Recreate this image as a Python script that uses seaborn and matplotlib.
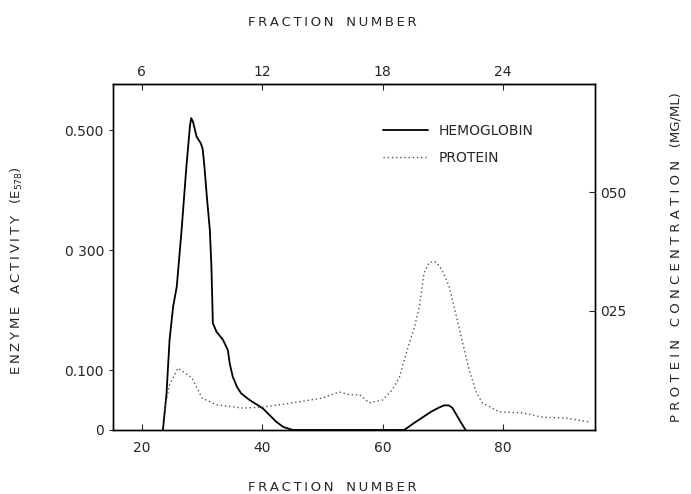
import matplotlib
matplotlib.use("Agg")
import matplotlib.pyplot as plt
import seaborn as sns
import pandas as pd

# Hemoglobin (enzyme activity, E578) vs fraction number
hb_x = [23.5, 24.1, 24.6, 25.2, 25.8, 26.6, 27.4, 28.0, 28.2, 28.5, 29.1, 29.8,
        30.1, 30.4, 30.8, 31.3, 31.56, 31.8, 32.4, 33.5, 34.3, 34.6, 35.1, 35.8,
        36.5, 37.9, 39.0, 40.1, 41.2, 42.3, 43.5, 45.1, 55.0, 63.6, 65.0, 66.5,
        68.0, 69.3, 70.2, 71.0, 71.6, 72.3, 73.0, 73.8]
hb_y = [0.0, 0.061, 0.15, 0.206, 0.239, 0.333, 0.439, 0.508, 0.52, 0.514, 0.489,
        0.478, 0.469, 0.439, 0.389, 0.333, 0.272, 0.178, 0.164, 0.15, 0.133, 0.111,
        0.089, 0.072, 0.061, 0.05, 0.043, 0.036, 0.025, 0.014, 0.005, 0.0, 0.0,
        0.0, 0.01, 0.02, 0.03, 0.037, 0.041, 0.041, 0.037, 0.025, 0.013, 0.0]

# Protein concentration (mg/ml) vs fraction number
pr_x = [23.8, 24.6, 26.0, 27.1, 28.3, 30.0, 32.4, 36.7, 40.1, 45.0, 50.0, 52.8,
        54.5, 56.2, 57.8, 60.0, 61.6, 62.8, 64.1, 65.3, 66.1, 66.9, 67.8, 68.9,
        69.9, 71.1, 71.9, 72.7, 73.6, 74.4, 75.6, 76.6, 79.4, 83.2, 86.5, 90.5,
        94.3]
pr_y = [0.0042, 0.0095, 0.013, 0.012, 0.011, 0.0067, 0.0053, 0.0046, 0.0048,
        0.0057, 0.0067, 0.008, 0.0074, 0.0074, 0.0057, 0.0063, 0.0084, 0.0111,
        0.0168, 0.0216, 0.0258, 0.033, 0.0353, 0.0353, 0.0336, 0.030, 0.0258,
        0.0216, 0.0168, 0.0126, 0.0078, 0.0057, 0.0038, 0.0036, 0.0027, 0.0025,
        0.0017]

left_ticks = [0, 0.1, 0.3, 0.5]
left_labels = ["0", "0.100", "0 300", "0.500"]
right_ticks = [0.025, 0.050]
right_labels = ["025", "050"]
top_ticks = [6, 12, 18, 24]

hb = pd.DataFrame({"fraction": hb_x, "value": hb_y})
pr = pd.DataFrame({"fraction": pr_x, "value": pr_y})


def spaced(words, gap):
    # letter-spaced label like the old typewriter lettering
    return "   ".join(gap.join(w) for w in words)


sns.set_style("ticks")
plt.rcParams["font.family"] = ["DejaVu Sans"]

fig = plt.figure(figsize=(6.91, 4.94), dpi=100)
ax = fig.add_axes([0.1635, 0.1296, 0.6975, 0.7004])
ax2 = ax.twinx()

sns.lineplot(data=hb, x="fraction", y="value", ax=ax, color="black",
             linewidth=1.3, label="HEMOGLOBIN", legend=False)
sns.lineplot(data=pr, x="fraction", y="value", ax=ax2, color="#555555",
             linewidth=1.0, linestyle=(0, (1, 2)), label="PROTEIN", legend=False)

ax.set_xlim(15.2, 95.3)
ax.set_ylim(0, 0.577)
ax2.set_ylim(0, 0.0727)

ax.set_xticks([20, 40, 60, 80])
ax.set_yticks(left_ticks)
ax.set_yticklabels(left_labels)
ax2.set_yticks(right_ticks)
ax2.set_yticklabels(right_labels)
ax.set_xlabel("")
ax.set_ylabel("")
ax2.set_ylabel("")

for a in (ax, ax2):
    for s in a.spines.values():
        s.set_color("black")
        s.set_linewidth(1.0)
ax.tick_params(axis="x", direction="in", length=4, labelsize=10, pad=8)
ax.tick_params(axis="y", direction="out", length=3, labelsize=10)
ax2.tick_params(axis="y", direction="in", length=4, labelsize=10)

top = ax.secondary_xaxis("top", functions=(lambda v: v * 0.3, lambda v: v / 0.3))
top.set_xticks(top_ticks)
top.tick_params(direction="in", length=4, labelsize=10)

frac = spaced(["FRACTION", "NUMBER"], "\u2009")
fig.text(332 / 691, 1 - 22 / 494, frac, ha="center", va="center", fontsize=9.5)
fig.text(332 / 691, 1 - 487 / 494, frac, ha="center", va="center", fontsize=9.5)
fig.text(17 / 691, 1 - 271 / 494,
         spaced(["ENZYME", "ACTIVITY"], "\u2009") + "   (E$_{578}$)",
         rotation=90, ha="center", va="center", fontsize=9.5)
fig.text(676 / 691, 1 - 257 / 494,
         spaced(["PROTEIN", "CONCENTRATION"], " ") + "   (MG/ML)",
         rotation=90, ha="center", va="center", fontsize=9.5)

h1, l1 = ax.get_legend_handles_labels()
h2, l2 = ax2.get_legend_handles_labels()
ax2.legend(h1 + h2, l1 + l2, loc="upper left", bbox_to_anchor=(0.535, 0.92),
           frameon=False, fontsize=10, handlelength=3.2, labelspacing=0.9)

fig.savefig("out.png", dpi=100)
